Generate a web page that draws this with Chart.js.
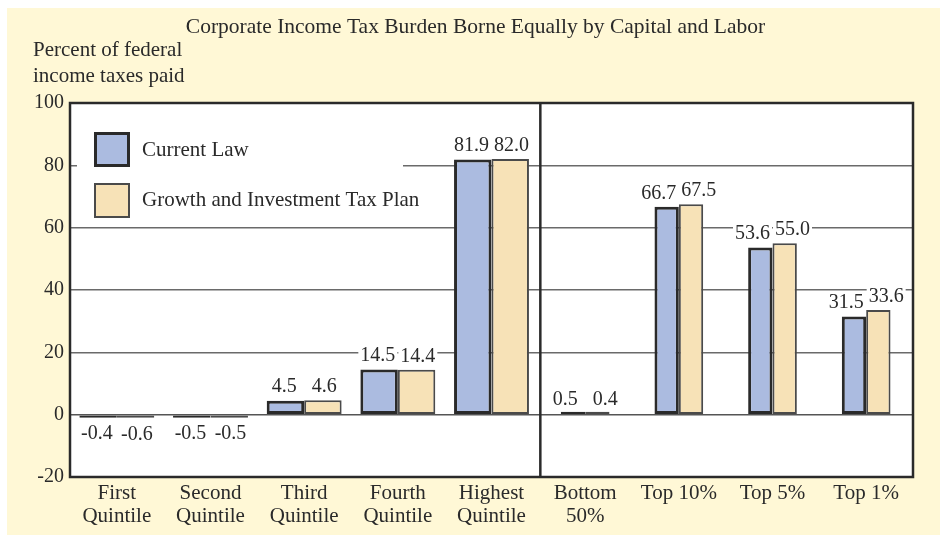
<!DOCTYPE html>
<html>
<head>
<meta charset="utf-8">
<script src="https://cdn.jsdelivr.net/npm/chart.js@4.4.1/dist/chart.umd.min.js"></script>
<style>
  html, body { margin: 0; padding: 0; background: #fff; }
  #wrap { position: absolute; left: 7px; top: 8px; width: 933px; height: 527px; background: #fff8d6; }
</style>
</head>
<body>
<div id="wrap"><canvas id="chart"></canvas></div>
<script>
// ---- data ----
const quintileLabels = [['First', 'Quintile'], ['Second', 'Quintile'], ['Third', 'Quintile'], ['Fourth', 'Quintile'], ['Highest', 'Quintile']];
const topLabels = [['Bottom', '50%'], 'Top 10%', 'Top 5%', 'Top 1%'];

const currentQuintile = [-0.4, -0.5, 4.5, 14.5, 81.9];
const planQuintile = [-0.6, -0.5, 4.6, 14.4, 82.0];
const currentTop = [0.5, 66.7, 53.6, 31.5];
const planTop = [0.4, 67.5, 55.0, 33.6];

const yTicks = [-20, 0, 20, 40, 60, 80, 100];

const seriesNames = ['Current Law', 'Growth and Investment Tax Plan'];
const chartTitle = 'Corporate Income Tax Burden Borne Equally by Capital and Labor';
const yTitle = ['Percent of federal', 'income taxes paid'];

// ---- look ----
const FONT = '"Liberation Serif", "DejaVu Serif", serif';
const INK = '#2a2a2a';
const BLUE = '#abbbe0';
const TAN = '#f7e2b7';

const categories = quintileLabels.concat(topLabels);
const blanksTop = topLabels.map(() => null);
const blanksQ = quintileLabels.map(() => null);

function barSet(name, data, fill, border, bw, catPct) {
    return {
        label: name,
        data: data,
        backgroundColor: fill,
        borderColor: border,
        borderWidth: bw,
        borderSkipped: false,
        minBarLength: 3,
        barPercentage: 1.0,
        categoryPercentage: catPct
    };
}

const datasets = [
    barSet(seriesNames[0], currentQuintile.concat(blanksTop), BLUE, INK, 3, 0.8),
    barSet(seriesNames[1], planQuintile.concat(blanksTop), TAN, '#4a4a4a', 2, 0.8),
    barSet(seriesNames[0], blanksQ.concat(currentTop), BLUE, INK, 3, 0.52),
    barSet(seriesNames[1], blanksQ.concat(planTop), TAN, '#4a4a4a', 2, 0.52)
];

// white plot area, titles
const backdrop = {
    id: 'backdrop',
    beforeDraw(chart) {
        const ctx = chart.ctx, a = chart.chartArea;
        ctx.save();
        ctx.fillStyle = '#fff';
        ctx.fillRect(a.left, a.top, a.right - a.left, a.bottom - a.top);
        ctx.fillStyle = INK;
        ctx.textBaseline = 'middle';
        ctx.textAlign = 'center';
        ctx.font = '21.5px ' + FONT;
        ctx.fillText(chartTitle, chart.width / 2 + 2, 19);
        ctx.textAlign = 'left';
        ctx.font = '21px ' + FONT;
        ctx.fillText(yTitle[0], 26, 42);
        ctx.fillText(yTitle[1], 26, 68);
        ctx.restore();
    }
};

// legend box, value labels
const overlay = {
    id: 'overlay',
    afterDatasetsDraw(chart) {
        const ctx = chart.ctx, a = chart.chartArea;
        const xs = chart.scales.x, ys = chart.scales.y;
        ctx.save();

        // legend
        ctx.fillStyle = '#fff';
        ctx.fillRect(a.left + 7, a.top + 4, 326, 112);
        ctx.fillStyle = BLUE;
        ctx.fillRect(a.left + 24, a.top + 29, 36, 35);
        ctx.lineWidth = 3;
        ctx.strokeStyle = INK;
        ctx.strokeRect(a.left + 25.5, a.top + 30.5, 33, 32);
        ctx.fillStyle = TAN;
        ctx.fillRect(a.left + 24, a.top + 80, 36, 35);
        ctx.lineWidth = 2;
        ctx.strokeStyle = '#4a4a4a';
        ctx.strokeRect(a.left + 25, a.top + 81, 34, 33);
        ctx.fillStyle = INK;
        ctx.font = '21px ' + FONT;
        ctx.textBaseline = 'middle';
        ctx.textAlign = 'left';
        ctx.fillText(seriesNames[0], a.left + 72, a.top + 47);
        ctx.fillText(seriesNames[1], a.left + 72, a.top + 97);

        // value labels
        ctx.font = '20px ' + FONT;
        ctx.textAlign = 'center';
        const cur = currentQuintile.concat(currentTop);
        const plan = planQuintile.concat(planTop);
        categories.forEach((c, i) => {
            const cx = xs.getPixelForValue(i);
            [[cur[i], -20], [plan[i], 20]].forEach(([v, dx]) => {
                const txt = v.toFixed(1);
                const y = v < 0 ? ys.getPixelForValue(v) + 17 : ys.getPixelForValue(v) - 14.5;
                const w = ctx.measureText(txt).width + 4;
                ctx.fillStyle = '#fff';
                ctx.fillRect(cx + dx - w / 2, y - 10, w, 20);
                ctx.fillStyle = INK;
                ctx.fillText(txt, cx + dx, y + 1);
            });
        });
        ctx.restore();
    },
    afterDraw(chart) {
        const ctx = chart.ctx, a = chart.chartArea;
        const xs = chart.scales.x;
        ctx.save();
        ctx.strokeStyle = INK;
        ctx.lineWidth = 2.5;
        ctx.strokeRect(a.left, a.top, a.right - a.left, a.bottom - a.top);
        const split = (xs.getPixelForValue(quintileLabels.length - 1) + xs.getPixelForValue(quintileLabels.length)) / 2 + 2;
        ctx.beginPath();
        ctx.moveTo(split, a.top);
        ctx.lineTo(split, a.bottom);
        ctx.stroke();
        ctx.restore();
    }
};

new Chart(document.getElementById('chart'), {
    type: 'bar',
    data: { labels: categories, datasets: datasets },
    options: {
        responsive: true,
        maintainAspectRatio: false,
        animation: false,
        devicePixelRatio: 1,
        skipNull: true,
        layout: { padding: { top: 95, right: 27, left: 0, bottom: 0 } },
        plugins: {
            legend: { display: false },
            title: { display: false },
            tooltip: { enabled: false }
        },
        scales: {
            x: {
                grid: { display: false },
                border: { display: false },
                ticks: {
                    color: INK,
                    font: { family: FONT, size: 21, lineHeight: 1.1 },
                    padding: -3,
                    maxRotation: 0,
                    autoSkip: false
                },
                afterFit(s) { s.height = 58; }
            },
            y: {
                min: yTicks[0],
                max: yTicks[yTicks.length - 1],
                afterBuildTicks(s) { s.ticks = yTicks.map(v => ({ value: v })); },
                grid: {
                    drawTicks: false,
                    lineWidth: 1.5,
                    color: c => {
                        const v = c.tick && c.tick.value;
                        if (v === 0) return '#555';
                        if (v > 0 && v < 100) return '#6a6a6a';
                        return 'rgba(0,0,0,0)';
                    }
                },
                border: { display: false },
                ticks: {
                    color: INK,
                    font: { family: FONT, size: 20 },
                    padding: 6
                },
                afterFit(s) { s.width = 63; }
            }
        }
    },
    plugins: [backdrop, overlay]
});
</script>
</body>
</html>
